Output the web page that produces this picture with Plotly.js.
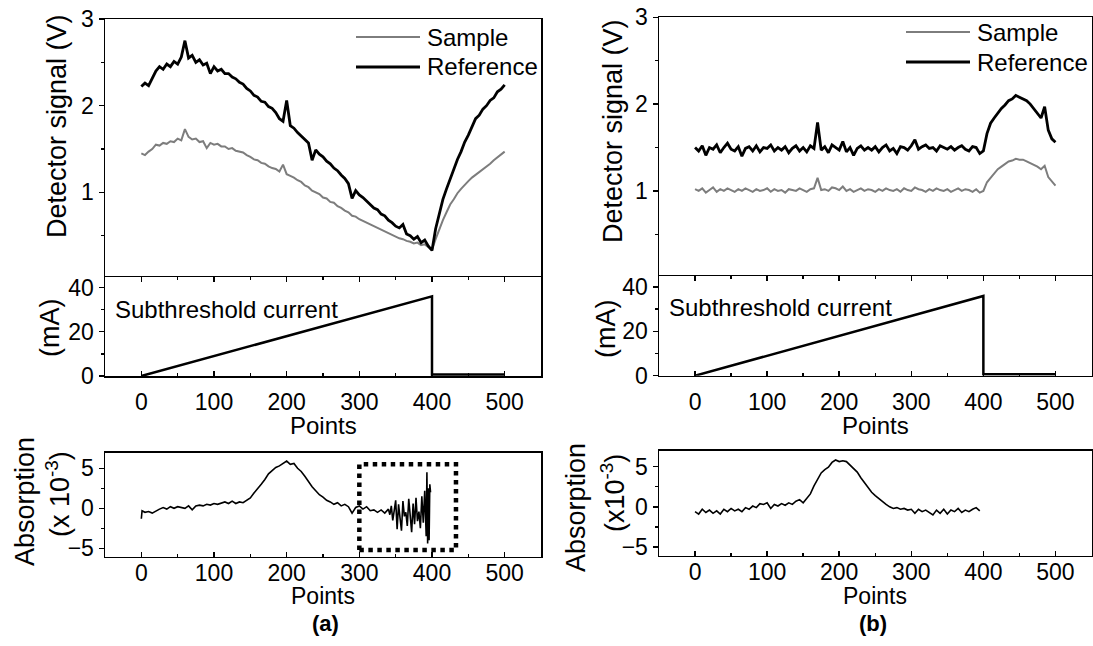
<!DOCTYPE html>
<html>
<head>
<meta charset="utf-8">
<script src="https://cdn.plot.ly/plotly-3.0.1.min.js"></script>
<style>html,body{margin:0;padding:0;background:#fff;}#chart{width:1093px;height:646px;}</style>
</head>
<body>
<div id="chart"></div>
<script>
// ---------------- DATA ----------------
// Detector signals, panel (a): points 0..500 sampled every 5 points
const refA = [2.22,2.26,2.23,2.31,2.40,2.45,2.42,2.48,2.45,2.51,
  2.48,2.56,2.75,2.55,2.58,2.50,2.53,2.47,2.49,2.37,
  2.45,2.40,2.42,2.37,2.37,2.33,2.31,2.27,2.25,2.20,
  2.17,2.12,2.10,2.05,2.04,1.99,1.97,1.92,1.85,1.82,
  2.06,1.77,1.74,1.69,1.65,1.60,1.57,1.37,1.49,1.44,
  1.41,1.36,1.33,1.28,1.25,1.20,1.16,1.10,0.93,1.02,
  0.97,0.94,0.90,0.87,0.82,0.80,0.75,0.73,0.68,0.65,
  0.61,0.59,0.63,0.52,0.50,0.46,0.49,0.42,0.45,0.38,
  0.33,0.58,0.76,0.92,1.04,1.16,1.26,1.38,1.47,1.58,
  1.66,1.75,1.85,1.89,1.96,2.00,2.06,2.09,2.16,2.19,
  2.24];
const sampleA = [1.45,1.43,1.47,1.50,1.55,1.54,1.57,1.56,1.59,1.58,
  1.62,1.60,1.73,1.64,1.61,1.62,1.58,1.59,1.51,1.57,
  1.55,1.56,1.53,1.53,1.50,1.51,1.48,1.47,1.46,1.43,
  1.41,1.38,1.37,1.34,1.33,1.30,1.28,1.27,1.24,1.32,
  1.21,1.19,1.17,1.14,1.12,1.08,1.06,1.02,1.00,0.98,
  0.94,0.93,0.89,0.88,0.84,0.82,0.79,0.77,0.73,0.72,
  0.69,0.67,0.65,0.63,0.61,0.59,0.57,0.55,0.53,0.51,
  0.49,0.47,0.46,0.44,0.43,0.41,0.42,0.39,0.40,0.37,
  0.34,0.46,0.58,0.68,0.77,0.86,0.92,0.99,1.04,1.09,
  1.13,1.17,1.20,1.24,1.27,1.30,1.33,1.37,1.40,1.43,
  1.47];
// Detector signals, panel (b)
const refB = [1.50,1.46,1.52,1.41,1.50,1.48,1.53,1.44,1.50,1.55,
  1.48,1.46,1.51,1.40,1.49,1.51,1.46,1.52,1.45,1.50,
  1.49,1.53,1.46,1.50,1.47,1.51,1.44,1.49,1.52,1.46,
  1.50,1.45,1.52,1.49,1.79,1.47,1.51,1.44,1.53,1.50,
  1.47,1.57,1.45,1.50,1.41,1.49,1.52,1.47,1.50,1.47,
  1.51,1.45,1.50,1.53,1.46,1.49,1.43,1.51,1.50,1.47,
  1.52,1.59,1.48,1.51,1.53,1.49,1.50,1.46,1.52,1.50,
  1.48,1.51,1.47,1.50,1.52,1.48,1.46,1.51,1.50,1.43,
  1.46,1.66,1.78,1.84,1.90,1.95,1.99,2.04,2.06,2.10,
  2.08,2.06,2.04,2.00,1.95,1.90,1.84,1.97,1.70,1.60,
  1.56];
const sampleB = [1.02,1.00,1.03,0.98,1.01,1.04,0.99,1.02,1.00,1.03,
  1.01,0.99,1.02,1.00,1.03,1.01,0.99,1.02,1.00,1.01,
  1.03,0.99,1.02,1.00,1.01,0.98,1.02,1.01,1.00,1.03,
  1.01,0.99,1.02,1.03,1.15,1.01,1.02,1.00,1.04,1.03,
  1.01,1.05,1.00,1.02,0.99,1.01,1.03,1.00,1.02,1.01,
  0.99,1.02,1.00,1.03,1.01,1.00,1.02,0.99,1.03,1.01,
  1.00,1.04,1.02,1.01,0.99,1.02,1.00,1.03,1.01,1.00,
  1.02,0.99,1.01,1.03,1.00,1.02,1.01,0.99,1.02,0.98,
  1.00,1.10,1.15,1.20,1.25,1.28,1.31,1.34,1.35,1.37,
  1.36,1.36,1.34,1.32,1.30,1.28,1.25,1.29,1.16,1.11,
  1.06];
// Subthreshold current (mA)
const currentX = [0, 400, 400, 500];
const currentY = [0, 36, 0.7, 0.7];
// Absorption (x10^-3), panel (a)
const absAX = [0,1,5,10,15,20,25,30,35,40,45,50,55,60,65,70,75,80,85,90,95,100,
  105,110,115,120,125,130,135,140,145,150,155,160,165,170,175,180,185,190,195,200,
  205,210,215,220,225,230,235,240,245,250,255,260,265,270,275,280,285,290,295,300,
  305,310,315,320,325,330,335,340,
  342,344,346,348,350,352,354,356,358,360,362,364,366,368,370,372,374,376,378,380,
  382,384,386,388,390,392,393,394,395,396,397,398];
const absAY = [-1.3,-0.3,-0.5,-0.4,-0.6,-0.3,-0.1,0.1,-0.1,0.2,0.0,0.2,0.1,0.0,0.3,-0.2,0.3,0.4,0.3,0.5,0.4,0.6,
  0.5,0.7,0.8,0.6,0.9,0.6,0.8,0.7,1.0,1.3,1.9,2.4,3.0,3.6,4.3,4.7,5.1,5.3,5.6,5.9,
  5.5,5.6,5.0,4.6,4.0,3.3,2.7,2.2,1.7,1.4,1.0,0.8,0.5,0.7,0.3,0.5,0.2,-0.6,0.1,0.3,
  -0.1,0.2,-0.3,-0.2,-0.5,-0.2,-0.6,-0.1,
  -0.8,0.3,-1.5,-0.3,1.0,-2.6,0.5,-1.2,-2.8,0.9,-1.0,-0.5,-2.2,1.2,-1.5,-3.0,0.6,-2.0,1.3,-1.6,
  -0.4,-2.5,1.5,-1.8,2.2,-3.5,4.5,-4.4,2.5,-4.0,3.0,2.0];
// Absorption (x10^-3), panel (b): points 0..395 every 5 points
const absB = [-0.6,-0.9,-0.3,-0.7,-0.4,-0.8,-0.5,-0.9,-0.3,-0.6,
  -0.2,-0.5,-0.3,-0.6,-0.1,-0.3,0.1,-0.1,0.4,0.3,
  0.5,-0.2,0.3,0.1,0.4,0.2,0.5,0.3,0.7,0.9,
  0.5,1.1,1.6,2.6,3.5,4.2,4.6,4.9,5.5,5.8,
  5.6,5.7,5.6,5.2,4.8,4.3,3.6,3.0,2.5,1.8,
  1.4,1.0,0.6,0.3,0.0,-0.2,-0.1,-0.3,-0.2,-0.4,
  -0.3,-0.8,-0.3,-0.6,-0.4,-0.7,-1.0,-0.4,-0.8,-0.3,
  -0.9,-0.4,-0.6,-0.2,-0.7,-0.4,-0.6,-0.3,-0.1,-0.5];
// Highlighted noisy region in (a)
const boxX = [300, 433];
const boxY = [-5.2, 5.5];
// Tick labels
const xTicks = [0, 100, 200, 300, 400, 500];
const sigTicks = [1, 2, 3];
const curTicks = [0, 20, 40];
const absTicks = [-5, 0, 5];
const seriesNames = ['Sample', 'Reference'];

// ---------------- LAYOUT ----------------
const W = 1093, H = 646;
const FONT = 'Liberation Sans, Arial, Helvetica, sans-serif';
const px = v => v / W;
const py = v => 1 - v / H;
const dy = (top, bot) => [py(bot), py(top)];

// kind: 'top' (frame top line only), 'mid', 'bot'
function xAx(dom, anchor, kind) {
  const labels = kind !== 'top';
  const a = {
    domain: [px(dom[0]), px(dom[1])], anchor: anchor, range: [-50, 550],
    showline: true, linecolor: '#000', linewidth: 1.5,
    showgrid: false, zeroline: false,
    tickfont: {family: FONT, size: 23, color: '#000'}
  };
  if (!labels) {
    Object.assign(a, {side: 'top', mirror: false, ticks: '', showticklabels: false});
  } else {
    Object.assign(a, {
      mirror: kind === 'mid' ? 'ticks' : true,
      ticks: 'inside', ticklen: 5, tickwidth: 1.5, tickcolor: '#000',
      tickmode: 'array', tickvals: xTicks, showticklabels: true,
      ticklabelstandoff: kind === 'mid' ? 5 : -5,
      minor: {tickvals: [-50, 50, 150, 250, 350, 450, 550], ticks: 'inside', ticklen: 3, tickwidth: 1.5, tickcolor: '#000'}
    });
  }
  return a;
}
function yAx(dom, anchor, range, tv, minorTv) {
  return {
    domain: dom, anchor: anchor, range: range,
    showline: true, linecolor: '#000', linewidth: 1.5, mirror: true,
    ticks: 'outside', ticklen: 5, tickwidth: 1.5, tickcolor: '#000',
    tickmode: 'array', tickvals: tv,
    minor: {tickvals: minorTv, ticks: 'outside', ticklen: 3, tickwidth: 1.5, tickcolor: '#000'},
    showgrid: false, zeroline: false,
    tickfont: {family: FONT, size: 23, color: '#000'}
  };
}

const L = [105, 541], R = [659, 1091.5];
const layout = {
  width: W, height: H, margin: {l: 0, r: 0, t: 0, b: 0},
  paper_bgcolor: '#fff', plot_bgcolor: '#fff', showlegend: false,
  font: {family: FONT, color: '#000'},
  xaxis: xAx(L, 'y', 'top'),
  yaxis: yAx(dy(19, 277.3), 'x', [0.02, 3], sigTicks, [0.5, 1.5, 2.5]),
  xaxis2: xAx(L, 'y2', 'mid'),
  yaxis2: yAx(dy(277.3, 376), 'x2', [0, 44.6], curTicks, [10, 30]),
  xaxis3: xAx(L, 'y3', 'bot'),
  yaxis3: yAx(dy(452.7, 556.7), 'x3', [-6.05, 6.95], absTicks, [-2.5, 2.5]),
  xaxis4: xAx(R, 'y4', 'top'),
  yaxis4: yAx(dy(17.3, 276), 'x4', [0.02, 3], sigTicks, [0.5, 1.5, 2.5]),
  xaxis5: xAx(R, 'y5', 'mid'),
  yaxis5: yAx(dy(276, 375.7), 'x5', [0, 45], curTicks, [10, 30]),
  xaxis6: xAx(R, 'y6', 'bot'),
  yaxis6: yAx(dy(450.7, 555.7), 'x6', [-6.05, 6.95], absTicks, [-2.5, 2.5]),
  shapes: [],
  annotations: []
};

const SAMPLE_STYLE = {color: '#7d7d7d', width: 2};
const REF_STYLE = {color: '#000', width: 2.8};

function ann(text, x, y, size, opts) {
  return Object.assign({text: text, x: px(x), y: py(y), xref: 'paper', yref: 'paper',
    showarrow: false, xanchor: 'center', yanchor: 'middle',
    font: {family: FONT, size: size, color: '#000'}}, opts || {});
}
// Axis titles & labels
[
  ['Detector signal (V)', 57, 126, 27, {textangle: -90}],
  ['(mA)', 50, 328, 27, {textangle: -90}],
  ['Absorption', 25, 502, 27, {textangle: -90}],
  ['(x 10<sup>-3</sup>)', 58, 494, 27, {textangle: -90}],
  ['Points', 323, 426, 24],
  ['Points', 323, 596, 23],
  ['<b>(a)</b>', 325, 623, 22],
  ['Subthreshold current', 113, 309, 24, {xanchor: 'left'}],
  ['Detector signal (V)', 613, 131, 27, {textangle: -90}],
  ['(mA)', 606, 329, 27, {textangle: -90}],
  ['Absorption', 576, 508, 27, {textangle: -90}],
  ['(x10<sup>-3</sup>)', 613, 493, 27, {textangle: -90}],
  ['Points', 875, 426, 24],
  ['Points', 875, 596, 23],
  ['<b>(b)</b>', 873, 623, 22],
  ['Subthreshold current', 667, 308, 24, {xanchor: 'left'}]
].forEach(a => layout.annotations.push(ann(a[0], a[1], a[2], a[3], a[4])));

// Manual legends (long line samples like the original)
function legend(x0, x1, tx, yS, yR) {
  [[yS, SAMPLE_STYLE, seriesNames[0]], [yR, REF_STYLE, seriesNames[1]]].forEach(it => {
    layout.shapes.push({type: 'line', xref: 'paper', yref: 'paper',
      x0: px(x0), x1: px(x1), y0: py(it[0]), y1: py(it[0]), line: it[1]});
    layout.annotations.push(ann(it[2], tx, it[0], 24, {xanchor: 'left'}));
  });
}
legend(356, 420, 425, 37, 67);
legend(906, 970, 975, 32, 62);

// Dotted box around noisy region
layout.shapes.push({type: 'rect', xref: 'x3', yref: 'y3',
  x0: boxX[0], x1: boxX[1], y0: boxY[0], y1: boxY[1],
  line: {color: '#000', width: 4.5, dash: 'dot'}});

// ---------------- TRACES ----------------
const line = (st) => ({color: st.color, width: st.width});
const traces = [
  {y: sampleA, x0: 0, dx: 5, xaxis: 'x', yaxis: 'y', mode: 'lines', line: line(SAMPLE_STYLE), name: seriesNames[0]},
  {y: refA, x0: 0, dx: 5, xaxis: 'x', yaxis: 'y', mode: 'lines', line: line(REF_STYLE), name: seriesNames[1]},
  {x: currentX, y: currentY, xaxis: 'x2', yaxis: 'y2', mode: 'lines', line: {color: '#000', width: 2.5}},
  {x: absAX, y: absAY, xaxis: 'x3', yaxis: 'y3', mode: 'lines', line: {color: '#000', width: 1.6}},
  {y: sampleB, x0: 0, dx: 5, xaxis: 'x4', yaxis: 'y4', mode: 'lines', line: line(SAMPLE_STYLE), name: seriesNames[0]},
  {y: refB, x0: 0, dx: 5, xaxis: 'x4', yaxis: 'y4', mode: 'lines', line: line(REF_STYLE), name: seriesNames[1]},
  {x: currentX, y: currentY, xaxis: 'x5', yaxis: 'y5', mode: 'lines', line: {color: '#000', width: 2.5}},
  {y: absB, x0: 0, dx: 5, xaxis: 'x6', yaxis: 'y6', mode: 'lines', line: {color: '#000', width: 1.6}}
];

Plotly.newPlot('chart', traces, layout, {staticPlot: true, displayModeBar: false});
</script>
</body>
</html>
